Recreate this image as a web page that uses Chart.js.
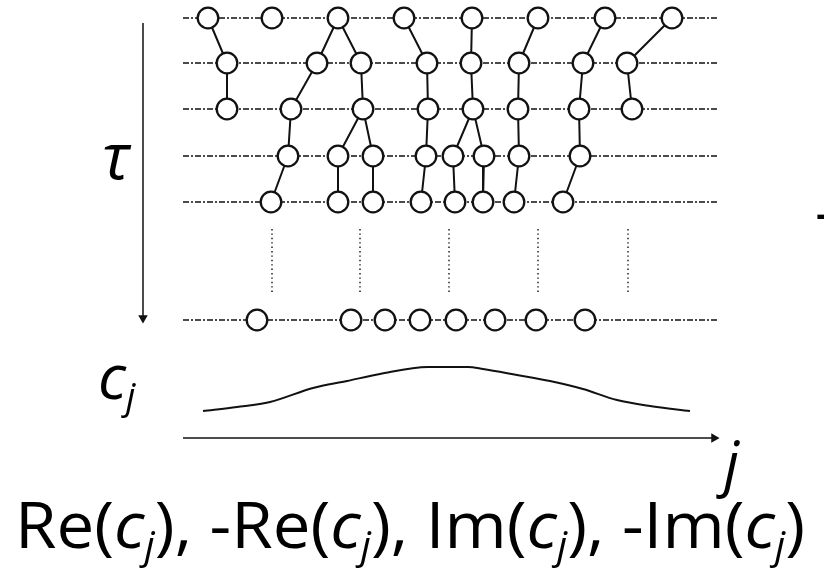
<!DOCTYPE html>
<html>
<head>
<meta charset="utf-8">
<script src="https://cdn.jsdelivr.net/npm/chart.js@4.4.0/dist/chart.umd.min.js"></script>
<style>
  html, body { margin: 0; padding: 0; background: #fff; }
  #wrap { position: relative; width: 824px; height: 578px; overflow: hidden; }
  #wrap canvas { position: absolute; left: 0; top: 0; }
  .lbl { position: absolute; font-family: "Open Sans", sans-serif; color: #000; line-height: 1; white-space: nowrap; }
  .lbl i { font-style: italic; }
  .lbl sub { font-size: 0.6em; vertical-align: baseline; position: relative; top: 0.28em; }
</style>
</head>
<body>
<div id="wrap">
  <canvas id="diagram" width="824" height="578"></canvas>
  <div class="lbl" id="tau" style="left:102px; top:122px; font-size:65px;"><i>τ</i></div>
  <div class="lbl" id="cj" style="left:98px; top:344px; font-size:62px;"><i>c<sub>j</sub></i></div>
  <div class="lbl" id="jlab" style="left:724px; top:432px; font-size:60px;"><i>j</i></div>
  <div class="lbl" id="title" style="left:15px; top:492px; font-size:64px;">Re(<i>c<sub>j</sub></i>), -Re(<i>c<sub>j</sub></i>), Im(<i>c<sub>j</sub></i>), -Im(<i>c<sub>j</sub></i>)</div>
  <div class="lbl" id="edge" style="left:815px; top:180px; font-size:60px;">-</div>
</div>
<script>
// walker positions (j) on each imaginary-time row (tau)
const rowTau = [18, 63, 109, 156, 202, 320];
const rowWalkers = [
  [208, 272, 338, 404, 472, 538, 605, 672],
  [227, 317, 361, 427, 471, 519, 583, 627],
  [227, 291, 363, 428, 473, 518, 579, 632],
  [288, 338, 373, 426, 453, 484, 519, 580],
  [271, 338, 373, 421, 455, 483, 514, 563],
  [257, 351, 385, 420, 456, 495, 536, 585],
];
// parent -> child index pairs between consecutive rows
const rowLinks = [
  [[0,0],[2,1],[2,2],[3,3],[4,4],[5,5],[6,6],[7,7]],
  [[0,0],[1,1],[2,2],[3,3],[4,4],[5,5],[6,6],[7,7]],
  [[1,0],[2,1],[2,2],[3,3],[4,4],[4,5],[5,6],[6,7]],
  [[0,0],[1,1],[2,2],[3,3],[4,4],[5,5],[6,6],[7,7]],
];
const rowSpan = [183, 718];
const gapColumns = [272, 360, 449, 538, 628];
const gapSpan = [229, 293];

// c_j profile
const cjX = [203, 237, 270, 313, 347, 380, 428, 468, 483, 517, 550, 583, 617, 650, 690];
const cjY = [411, 407, 402, 388, 381, 374, 367, 367, 369, 375, 381, 389, 400, 406, 411];

// axes arrows
const tauArrow = { x: 143, from: 23, to: 318 };
const jArrow = { y: 438, from: 183, to: 714 };

const ink = '#111';

const nodes = [];
rowWalkers.forEach((row, r) => row.forEach(x => nodes.push({ x, y: rowTau[r] })));

const links = [];
rowLinks.forEach((pairs, r) => {
  pairs.forEach(([a, b]) => {
    links.push({ x: rowWalkers[r][a], y: rowTau[r] });
    links.push({ x: rowWalkers[r + 1][b], y: rowTau[r + 1] });
    links.push({ x: rowWalkers[r + 1][b], y: null });
  });
});

const gaps = [];
gapColumns.forEach(x => {
  gaps.push({ x, y: gapSpan[0] }, { x, y: gapSpan[1] }, { x, y: null });
});

const rowLines = rowTau.map(y => ({
  data: [{ x: rowSpan[0], y }, { x: rowSpan[1], y }],
  borderColor: ink,
  borderWidth: 1.4,
  borderDash: [6, 2, 2, 2],
  pointRadius: 0,
  order: 5,
}));

new Chart(document.getElementById('diagram'), {
  type: 'line',
  data: {
    datasets: [
      {
        data: nodes,
        showLine: false,
        pointRadius: 10.3,
        pointBorderWidth: 2.3,
        pointBackgroundColor: '#fff',
        pointBorderColor: ink,
        order: 0,
      },
      {
        data: links,
        borderColor: ink,
        borderWidth: 2,
        pointRadius: 0,
        spanGaps: false,
        order: 2,
      },
      {
        data: gaps,
        borderColor: ink,
        borderWidth: 1.4,
        borderDash: [1.4, 3],
        pointRadius: 0,
        spanGaps: false,
        order: 3,
      },
      {
        data: cjX.map((x, i) => ({ x, y: cjY[i] })),
        borderColor: ink,
        borderWidth: 2,
        pointRadius: 0,
        cubicInterpolationMode: 'monotone',
        order: 1,
      },
      {
        data: [{ x: tauArrow.x, y: tauArrow.from }, { x: tauArrow.x, y: tauArrow.to }],
        borderColor: ink,
        borderWidth: 1.5,
        pointStyle: 'triangle',
        pointRadius: [0, 4],
        pointRotation: 180,
        pointBackgroundColor: ink,
        pointBorderColor: ink,
        order: 1,
      },
      {
        data: [{ x: jArrow.from, y: jArrow.y }, { x: jArrow.to, y: jArrow.y }],
        borderColor: ink,
        borderWidth: 1.5,
        pointStyle: 'triangle',
        pointRadius: [0, 4],
        pointRotation: 90,
        pointBackgroundColor: ink,
        pointBorderColor: ink,
        order: 1,
      },
      ...rowLines,
    ],
  },
  options: {
    responsive: false,
    animation: false,
    layout: { padding: 0, autoPadding: false },
    plugins: { legend: { display: false }, tooltip: { enabled: false } },
    elements: { line: { tension: 0 } },
    scales: {
      x: { type: 'linear', min: 0, max: 824, display: false },
      y: { type: 'linear', min: 0, max: 578, reverse: true, display: false },
    },
  },
});

// squeeze the caption to its width in the reference
const title = document.getElementById('title');
const w = title.getBoundingClientRect().width;
title.style.transformOrigin = 'left top';
title.style.transform = 'scaleX(' + (790 / w) + ')';
</script>
</body>
</html>
